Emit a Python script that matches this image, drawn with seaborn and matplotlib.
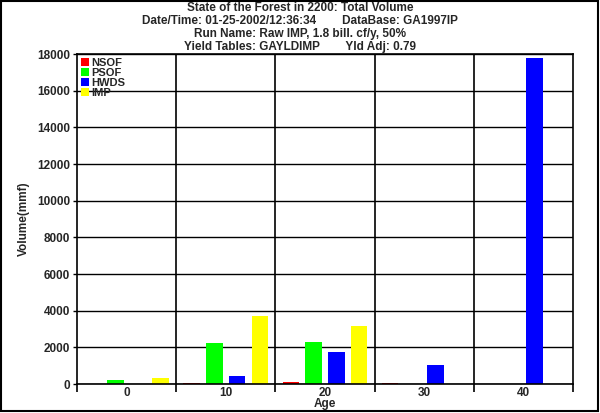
import pandas as pd
import numpy as np
import matplotlib.pyplot as plt
import seaborn as sns
from matplotlib.patches import Rectangle

sns.set_theme(style="white")
plt.rcParams['font.family'] = ['Liberation Sans', 'DejaVu Sans']
plt.rcParams['font.weight'] = 'bold'

# Data
ages = ['0', '10', '20', '30', '40']
nsof = [0, 60, 120, 50, 0]
psof = [220, 2240, 2290, 0, 0]
hwds = [0, 440, 1750, 1040, 17780]
imp = [320, 3710, 3160, 0, 0]
series = ['NSOF', 'PSOF', 'HWDS', 'IMP']
colors = ['#ff0000', '#00ff00', '#0000ff', '#ffff00']

title_lines = [
    "State of the Forest in 2200: Total Volume",
    "Date/Time: 01-25-2002/12:36:34        DataBase: GA1997IP",
    "Run Name: Raw IMP, 1.8 bill. cf/y, 50%",
    "Yield Tables: GAYLDIMP        Yld Adj: 0.79",
]

df = pd.DataFrame({
    'Age': ages * 4,
    'Series': np.repeat(series, len(ages)),
    'Volume': nsof + psof + hwds + imp,
})

fig = plt.figure(figsize=(6, 4.13), dpi=100)
ax = fig.add_axes([0.1283, 0.0702, 0.8267, 0.7990])

sns.barplot(data=df, x='Age', y='Volume', hue='Series', order=ages,
            hue_order=series, palette=colors, width=0.915, gap=0.27,
            saturation=1, linewidth=0, ax=ax)

ax.set_xlim(-0.5, 4.5)
ax.set_ylim(0, 18000)
ax.set_yticks(np.arange(0, 18001, 2000))
ax.yaxis.grid(True, color='black', linewidth=1)
ax.set_axisbelow(True)

# group separators
for xv in np.arange(0.5, 4.5, 1):
    ax.axvline(xv, color='black', linewidth=1.2, zorder=0)
ax.set_xticks(np.arange(-0.5, 4.6, 1), minor=True)
ax.tick_params(axis='x', which='minor', length=6, width=1.2, color='black', bottom=True)
ax.tick_params(axis='x', which='major', length=0, pad=2.5, labelsize=8.5)
ax.tick_params(axis='y', length=3, width=1, color='black', left=True, pad=2, labelsize=8.5)
for lab in ax.get_xticklabels() + ax.get_yticklabels():
    lab.set_fontweight('bold')

for s in ax.spines.values():
    s.set_color('black')
    s.set_linewidth(1.2)

ax.set_xlabel('Age', fontsize=8.5, fontweight='bold', labelpad=-1)
ax.set_ylabel('Volume(mmf)', fontsize=8.5, fontweight='bold', labelpad=5)

leg = ax.legend(loc='upper left', bbox_to_anchor=(0.0, 1.0), frameon=False,
                handlelength=0.75, handleheight=0.75, handletextpad=0.2,
                labelspacing=0.0, borderpad=0.15, borderaxespad=0.2,
                prop={'weight': 'bold', 'size': 8})

for i, line in enumerate(title_lines):
    fig.text(0.5, 0.9806 - i * 0.0315, line, ha='center', va='center',
             fontsize=8.5, fontweight='bold')

fig.patches.append(Rectangle((0.0017, 0.0056), 0.9945, 0.993, transform=fig.transFigure,
                             fill=False, edgecolor='black', linewidth=1.5))

fig.savefig('out.png', dpi=100)
